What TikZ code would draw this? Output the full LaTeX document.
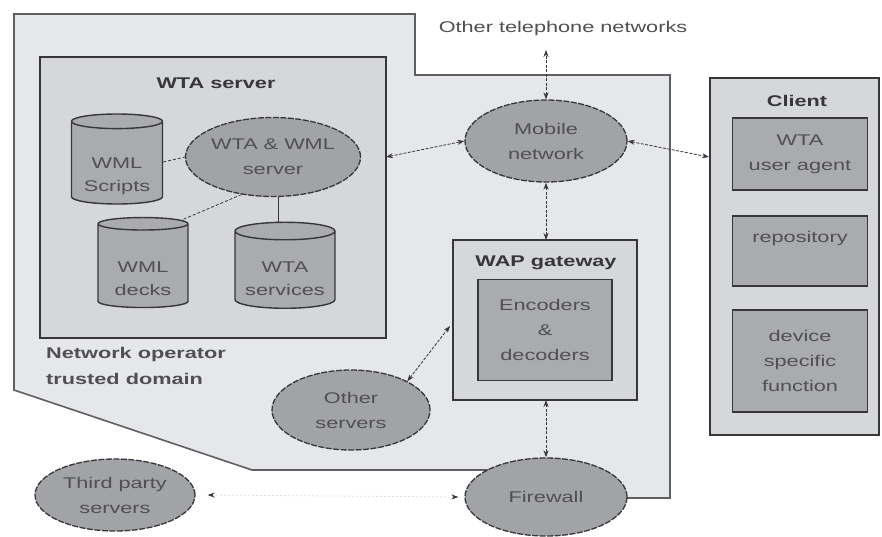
\documentclass[tikz,border=0pt]{standalone}
\usepackage{fontspec}
\setmainfont{Liberation Sans}
\newfontfamily\widesans[FakeStretch=1.4]{Liberation Sans}
\usetikzlibrary{shapes.geometric,arrows.meta}

\definecolor{domainfill}{RGB}{230,231,234}
\definecolor{boxfill}{RGB}{214,215,218}
\definecolor{innerfill}{RGB}{170,171,174}
\definecolor{ellfill}{RGB}{162,163,167}
\definecolor{edge}{RGB}{55,55,58}
\definecolor{ink}{RGB}{80,80,84}

\newcommand\labelfont{\widesans\fontsize{15.5}{25}\selectfont}
% invisible strut on a first line pushes the text block down inside a shape
\newcommand\dropby[1]{\rule{0pt}{#1}}

\tikzset{
  frame/.style={draw=edge, line width=1.6pt, fill=boxfill},
  innerbox/.style={draw=edge, line width=1.6pt, fill=innerfill, text=ink,
    align=center, font=\labelfont},
  cloud/.style={ellipse, draw=edge, line width=1.3pt, dash pattern=on 6pt off 1.5pt,
    fill=ellfill, text=ink, align=center, inner sep=0pt, font=\labelfont},
  store/.style={cylinder, shape border rotate=90, aspect=0.22, draw=edge,
    line width=1.4pt, fill=innerfill, text=ink, align=center, inner sep=0pt,
    font=\widesans\fontsize{15.5}{23}\selectfont},
  heading/.style={text=edge, font=\labelfont\bfseries},
  link/.style={draw=edge, line width=0.8pt, dash pattern=on 3pt off 1.5pt,
    {Stealth[length=7pt,width=5pt]}-{Stealth[length=7pt,width=5pt]}},
  tie/.style={draw=edge, line width=0.8pt},
}

\begin{document}
\begin{tikzpicture}[x=1pt,y=-1pt]
\useasboundingbox (0,0) rectangle (882,536);
\fill[white] (0,0) rectangle (882,536);

% operator domain outline
\draw[draw=edge!80, line width=1.6pt, fill=domainfill]
  (14,14) -- (415,14) -- (415,75) -- (670,75) -- (670,498) -- (560,498)
  -- (530,470) -- (252,470) -- (14,390) -- cycle;

% WTA server frame
\draw[frame] (40,57) rectangle (386,338);
\node[heading] (wtatitle) at (216,83) {WTA server};
\coordinate (wtaR) at (386,157);

\node[store, minimum width=91pt, minimum height=90pt] (scripts) at (117,163) {\dropby{38pt}WML\\Scripts};
\node[store, minimum width=90pt, minimum height=90pt] (decks) at (143,266) {\dropby{36pt}WML\\decks};
\node[store, minimum width=100pt, minimum height=86pt] (services) at (285,270) {\dropby{28pt}WTA\\services};
\node[cloud, minimum width=160pt, minimum height=79pt] (wtaserver) at (273,157) {WTA \& WML\\server};

\draw[tie, dash pattern=on 3pt off 2pt] (scripts.east |- 0,162) -- (wtaserver.west);
\draw[tie, dash pattern=on 3pt off 2pt] (wtaserver.-130) -- (decks.50);
\draw[tie] (wtaserver.south -| 278,0) -- (services.north -| 278,0);

\node[text=ink, align=left, anchor=north west, inner sep=0pt,
  font=\widesans\bfseries\fontsize{15.5}{26}\selectfont]
  (domainlabel) at (46,347) {Network operator\\trusted domain};

% mobile network and links
\node[text=ink, font=\labelfont] (othertel) at (563,28) {Other telephone networks};
\node[cloud, minimum width=162pt, minimum height=82pt] (mobile) at (546,141) {Mobile\\network};
\draw[link] (mobile.north) -- (mobile.north |- 0,50);
\draw[link] (wtaR) -- (mobile.west);

% client
\draw[frame] (710,78) rectangle (879,435);
\node[heading] (clienttitle) at (797,101) {Client};
\node[innerbox, minimum width=135pt, minimum height=72pt] (agent) at (800,154) {WTA\\user agent};
\node[innerbox, minimum width=135pt, minimum height=70pt, anchor=north, inner sep=0pt,
  text height=10pt, text depth=26pt] (repo) at (800,215) {repository};
\node[innerbox, minimum width=135pt, minimum height=102pt] (device) at (800,361) {device\\specific\\function};
\coordinate (clientL) at (709,157);
\draw[link] (mobile.east) -- (clientL);

% WAP gateway
\draw[frame] (453,240) rectangle (637,400);
\node[heading] (waptitle) at (546,263) {WAP gateway};
\node[innerbox, minimum width=134pt, minimum height=101pt] (codec) at (545,330) {Encoders\\\&\\decoders};
\coordinate (gwTop) at (546,240);
\coordinate (gwBot) at (546,400);
\coordinate (gwLeft) at (450,326);
\draw[link] (mobile.south) -- (gwTop);

% servers outside the gateway
\node[cloud, minimum width=158pt, minimum height=80pt] (others) at (351,410) {Other\\servers};
\draw[link] (others.north east) -- (gwLeft);

\node[cloud, minimum width=162pt, minimum height=78pt] (firewall) at (546,497) {Firewall};
\draw[link] (gwBot) -- (firewall.north);

\node[cloud, minimum width=160pt, minimum height=72pt] (third) at (115,495) {Third party\\servers};
\draw[draw=black!12, line width=0.8pt, dash pattern=on 2pt off 2pt,
  {Stealth[length=7pt,width=5pt,color=edge]}-{Stealth[length=7pt,width=5pt,color=edge]}]
  ([xshift=12pt]third.east) -- ([xshift=-6pt]firewall.west);
\end{tikzpicture}
\end{document}
